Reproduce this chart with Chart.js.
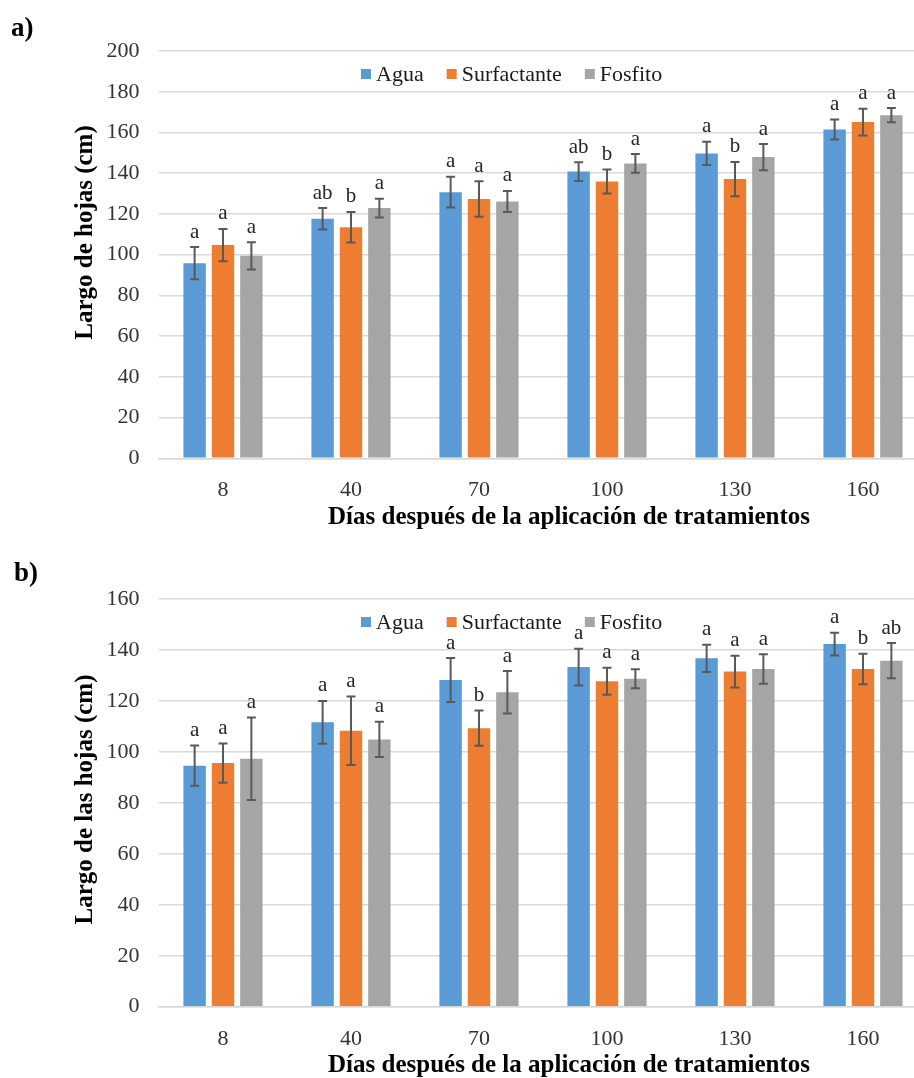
<!DOCTYPE html>
<html><head><meta charset="utf-8">
<script src="https://cdn.jsdelivr.net/npm/chart.js@4.4.0/dist/chart.umd.min.js"></script>
<style>
html,body{margin:0;padding:0;background:#fff;overflow:hidden;width:914px;height:1078px;}
.panel{position:absolute;left:0;width:914px;overflow:hidden;}
.lbl{position:absolute;font:bold 27px 'Liberation Serif';line-height:27px;color:#000;}
</style></head><body>
<div class="panel" style="top:0;height:540px"><canvas id="cA" width="940" height="540" style="width:940px;height:540px"></canvas></div>
<div class="panel" style="top:540px;height:538px"><canvas id="cB" width="940" height="538" style="width:940px;height:538px"></canvas></div>
<div class="lbl" style="left:11px;top:14px">a)</div>
<div class="lbl" style="left:14px;top:559px">b)</div>
<script>
// ---- data ----
const categories = ['8', '40', '70', '100', '130', '160'];
const seriesNames = ['Agua', 'Surfactante', 'Fosfito'];
const seriesColors = ['#5B9BD5', '#ED7D31', '#A5A5A5'];

// a) Largo de hojas (cm)
const aguaA = [95.8, 117.6, 130.7, 140.8, 149.7, 161.5];
const surfA = [104.7, 113.5, 127.3, 135.9, 137.1, 165.1];
const fosfA = [99.4, 122.9, 126.1, 144.8, 147.9, 168.5];
const errAguaA = [7.9, 5.3, 7.5, 4.6, 5.7, 4.9];
const errSurfA = [7.9, 7.5, 8.7, 5.9, 8.4, 6.6];
const errFosfA = [6.7, 4.6, 5.2, 4.6, 6.4, 3.5];
const letAguaA = ['a', 'ab', 'a', 'ab', 'a', 'a'];
const letSurfA = ['a', 'b', 'a', 'b', 'b', 'a'];
const letFosfA = ['a', 'a', 'a', 'a', 'a', 'a'];

// b) Largo de las hojas (cm)
const aguaB = [94.6, 111.6, 128.2, 133.3, 136.7, 142.3];
const surfB = [95.6, 108.3, 109.3, 127.7, 131.5, 132.5];
const fosfB = [97.3, 104.9, 123.4, 128.7, 132.5, 135.8];
const errAguaB = [7.9, 8.4, 8.6, 7.2, 5.3, 4.5];
const errSurfB = [7.7, 13.4, 6.9, 5.3, 6.2, 6.0];
const errFosfB = [16.2, 6.9, 8.3, 3.7, 5.8, 6.9];
const letAguaB = ['a', 'a', 'a', 'a', 'a', 'a'];
const letSurfB = ['a', 'a', 'b', 'a', 'a', 'b'];
const letFosfB = ['a', 'a', 'a', 'a', 'a', 'ab'];

const yTitleA = 'Largo de hojas (cm)';
const yTitleB = 'Largo de las hojas (cm)';
const xTitle = 'Días después de la aplicación de tratamientos';
const yMaxA = 200, yMaxB = 160, yStep = 20;

// ---- drawing ----
const FONT = "'Liberation Serif', 'Times New Roman', serif";
Chart.defaults.font.family = FONT;

const decorPlugin = {
  id: 'decor',
  afterDatasetsDraw(chart) {
    const ctx = chart.ctx;
    const ys = chart.scales.y;
    ctx.save();
    chart.data.datasets.forEach((ds, i) => {
      const meta = chart.getDatasetMeta(i);
      meta.data.forEach((bar, j) => {
        const v = ds.data[j], e = ds.errors[j];
        const yt = ys.getPixelForValue(v + e), yb = ys.getPixelForValue(v - e);
        ctx.strokeStyle = '#595959';
        ctx.lineWidth = 2;
        ctx.beginPath();
        ctx.moveTo(bar.x, yt); ctx.lineTo(bar.x, yb);
        ctx.moveTo(bar.x - 4.5, yt); ctx.lineTo(bar.x + 4.5, yt);
        ctx.moveTo(bar.x - 4.5, yb); ctx.lineTo(bar.x + 4.5, yb);
        ctx.stroke();
        ctx.fillStyle = '#262626';
        ctx.font = '21px ' + FONT;
        ctx.textAlign = 'center';
        ctx.textBaseline = 'alphabetic';
        ctx.fillText(ds.letters[j], bar.x, yt - 9.5);
      });
    });
    ctx.restore();
  },
  afterDraw(chart, args, opts) {
    const ctx = chart.ctx;
    const area = chart.chartArea;
    ctx.save();
    // legend
    ctx.font = '22px ' + FONT;
    ctx.textBaseline = 'middle';
    ctx.textAlign = 'left';
    let x = 361;
    const ly = area.top + 23;
    chart.data.datasets.forEach((ds, i) => {
      ctx.fillStyle = ds.backgroundColor;
      ctx.fillRect(x, ly - 5, 10, 10);
      ctx.fillStyle = '#1a1a1a';
      ctx.fillText(ds.label, x + 15, ly + 1);
      x += 15 + ctx.measureText(ds.label).width + 23;
    });
    // axis titles
    ctx.fillStyle = '#000';
    ctx.font = 'bold 25px ' + FONT;
    ctx.textAlign = 'center';
    ctx.textBaseline = 'alphabetic';
    ctx.fillText(opts.xTitle, 569, area.bottom + 65.5);
    ctx.translate(91.5, opts.yTitleCenter);
    ctx.rotate(-Math.PI / 2);
    ctx.fillText(opts.yTitle, 0, 0);
    ctx.restore();
  }
};

function makeChart(id, H, areaTop, areaBottom, yMax, vals, errs, lets, yTitle, yTitleCenter) {
  const datasets = seriesNames.map((n, i) => ({
    label: n,
    data: vals[i],
    errors: errs[i],
    letters: lets[i],
    backgroundColor: seriesColors[i],
    borderWidth: 0,
    categoryPercentage: 0.665,
    barPercentage: 0.79
  }));
  return new Chart(document.getElementById(id), {
    type: 'bar',
    data: { labels: categories, datasets },
    plugins: [decorPlugin],
    options: {
      responsive: false,
      animation: false,
      devicePixelRatio: 1,
      layout: { padding: { top: areaTop, right: 13, left: 0, bottom: 0 } },
      plugins: {
        legend: { display: false },
        tooltip: { enabled: false },
        decor: { xTitle, yTitle, yTitleCenter }
      },
      scales: {
        x: {
          grid: { display: false },
          border: { display: true, color: '#d9d9d9', width: 1.5 },
          ticks: { color: '#333', font: { size: 22 }, padding: 11, maxRotation: 0 },
          afterFit(s) { s.height = H - areaBottom; }
        },
        y: {
          min: 0, max: yMax,
          ticks: { stepSize: yStep, color: '#333', font: { size: 22 }, padding: 19.5 },
          grid: { color: '#d9d9d9', lineWidth: 1.5, drawTicks: false },
          border: { display: false },
          afterFit(s) { s.width = 159; }
        }
      }
    }
  });
}

makeChart('cA', 540, 51, 458.3, yMaxA,
  [aguaA, surfA, fosfA], [errAguaA, errSurfA, errFosfA], [letAguaA, letSurfA, letFosfA],
  yTitleA, 232.5);
makeChart('cB', 538, 59, 466.7, yMaxB,
  [aguaB, surfB, fosfB], [errAguaB, errSurfB, errFosfB], [letAguaB, letSurfB, letFosfB],
  yTitleB, 259.5);
</script>
</body></html>
